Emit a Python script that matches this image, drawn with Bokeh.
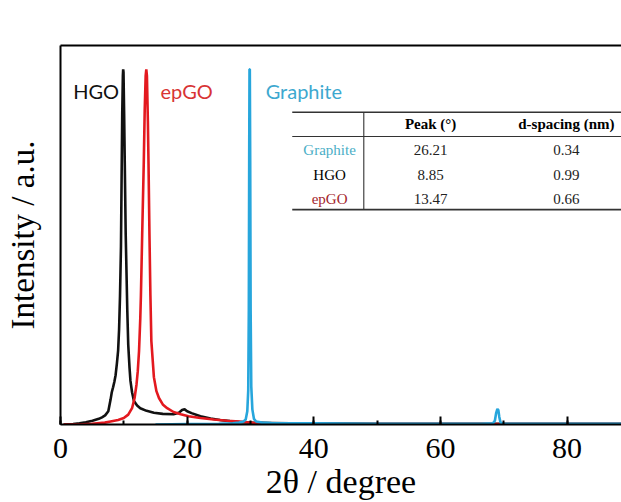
from bokeh.plotting import figure
from bokeh.models import Range1d, SingleIntervalTicker, FixedTicker, LinearAxis, ColumnDataSource
from bokeh.core.properties import value
from bokeh.embed import file_html
from bokeh.resources import INLINE

# ---- data ----
hgo_x = [0.5, 2, 3, 4, 5.05, 6.05, 6.55, 7.05, 7.55, 7.9, 8.1, 8.3, 8.5, 8.7, 8.9, 9.1, 9.25, 9.4,
         9.55, 9.65, 9.75, 9.85, 9.9, 9.95, 10.05, 10.15, 10.3, 10.55, 10.7, 10.9, 11.05, 11.3, 11.6,
         12.1, 12.6, 13.6, 14.75, 16.15, 17.85, 18.7, 19.2, 19.6, 20.0, 20.7, 22.1, 23.7, 25.2, 26.75,
         28.45, 30.3, 33.3, 36.3, 40, 50, 60, 70, 80, 88.6]
hgo_y = [0.0, 0.001, 0.003, 0.006, 0.01, 0.015, 0.019, 0.024, 0.035, 0.065, 0.085, 0.098, 0.112,
         0.13, 0.16, 0.195, 0.25, 0.34, 0.47, 0.65, 0.82, 0.92, 0.937, 0.93, 0.82, 0.69, 0.5, 0.3,
         0.21, 0.15, 0.115, 0.085, 0.062, 0.05, 0.043, 0.036, 0.031, 0.028, 0.027, 0.031, 0.038,
         0.04, 0.035, 0.03, 0.022, 0.016, 0.012, 0.009, 0.006, 0.005, 0.004, 0.003, 0.003, 0.002,
         0.002, 0.002, 0.002, 0.002]

epgo_x = [0.5, 3, 5, 7, 7.9, 9.1, 10.0, 10.7, 11.3, 11.7, 12.0, 12.2, 12.4, 12.6, 12.7, 12.9, 13.15,
          13.3, 13.45, 13.55, 13.65, 13.8, 13.9, 14.05, 14.2, 14.35, 14.75, 15.15, 15.55, 16.15,
          16.85, 17.85, 19.0, 20.2, 22.1, 24.2, 26.35, 28.25, 29.5, 30.8, 32.3, 35.3, 40, 50, 60,
          70, 80, 88.6]
epgo_y = [0.0, 0.0, 0.002, 0.005, 0.008, 0.012, 0.017, 0.026, 0.043, 0.07, 0.105, 0.14, 0.193,
          0.28, 0.34, 0.5, 0.69, 0.83, 0.92, 0.937, 0.92, 0.8, 0.69, 0.5, 0.34, 0.22, 0.125, 0.088,
          0.07, 0.053, 0.043, 0.033, 0.027, 0.022, 0.017, 0.013, 0.01, 0.008, 0.006, 0.004, 0.003,
          0.002, 0.001, 0.001, 0.001, 0.001, 0.001, 0.001]

graphite_x = [15, 20, 25, 27.2, 28.2, 28.9, 29.25, 29.5, 29.65, 29.74, 29.8, 29.85, 29.9, 29.96,
              30.03, 30.13, 30.3, 30.55, 30.9, 31.8, 33.3, 36.3, 40, 50, 60, 66.5, 68.3, 68.6,
              68.8, 69.0, 69.15, 69.3, 69.5, 69.9, 72.7, 80, 88.6]
graphite_y = [0.0, 0.001, 0.002, 0.003, 0.005, 0.008, 0.013, 0.035, 0.09, 0.3, 0.7, 0.937, 0.937,
              0.7, 0.3, 0.1, 0.04, 0.015, 0.008, 0.005, 0.004, 0.003, 0.003, 0.002, 0.002, 0.002,
              0.003, 0.01, 0.03, 0.041, 0.038, 0.02, 0.005, 0.002, 0.002, 0.002, 0.002]

series_names = ["HGO", "epGO", "Graphite"]
table_header = ["Peak (°)", "d-spacing (nm)"]
table_samples = ["Graphite", "HGO", "epGO"]
peak_deg = ["26.21", "8.85", "13.47"]
d_spacing = ["0.34", "0.99", "0.66"]

# ---- styles / positions ----
BLACK = "#111111"
RED = "#e3191f"
BLUE = "#27a6dc"
SERIF = "Liberation Serif"

p = figure(width=621, height=502, x_range=Range1d(0, 88.6), y_range=Range1d(0, 1),
           output_backend="svg", toolbar_location=None,
           min_border_left=60, min_border_right=0, min_border_top=45, min_border_bottom=78)
p.outline_line_color = None
p.grid.visible = False
p.background_fill_color = "white"

p.line(hgo_x, hgo_y, line_color=BLACK, line_width=2.6)
p.line(epgo_x, epgo_y, line_color=RED, line_width=2.6)
p.line(graphite_x, graphite_y, line_color=BLUE, line_width=2.6)

# axes
xa = p.xaxis[0]
xa.ticker = SingleIntervalTicker(interval=20, num_minor_ticks=2)
xa.major_tick_in = 8
xa.major_tick_out = 0
xa.minor_tick_in = 4
xa.minor_tick_out = 0
xa.major_tick_line_width = 2
xa.minor_tick_line_width = 2
xa.axis_line_width = 2
xa.axis_line_color = "black"
xa.major_tick_line_color = "black"
xa.minor_tick_line_color = "black"
xa.major_label_text_font = SERIF
xa.major_label_text_font_size = "30px"
xa.major_label_text_color = "black"
xa.major_label_standoff = 14
xa.axis_label = "2θ / degree"
xa.axis_label_text_font = SERIF
xa.axis_label_text_font_size = "34px"
xa.axis_label_text_font_style = "normal"
xa.axis_label_text_color = "black"
xa.axis_label_standoff = 2

ya = p.yaxis[0]
ya.ticker = FixedTicker(ticks=[])
ya.axis_line_width = 2
ya.axis_line_color = "black"
ya.axis_label = "Intensity / a.u."
ya.axis_label_text_font = SERIF
ya.axis_label_text_font_size = "33px"
ya.axis_label_text_font_style = "normal"
ya.axis_label_text_color = "black"
ya.axis_label_standoff = 20

top = LinearAxis(ticker=FixedTicker(ticks=[]), axis_line_width=2, axis_line_color="black",
                 major_label_text_font_size="0px")
p.add_layout(top, "above")

# series labels
lab_src = ColumnDataSource(dict(x=[2.0, 15.8, 32.4], y=[0.879, 0.879, 0.879], t=series_names,
                                c=[BLACK, "#d83434", "#3da8cf"]))
p.text(x="x", y="y", text="t", text_color="c", source=lab_src, text_font=value("Lato"),
       text_font_size="20px", text_baseline="alphabetic", text_align="left")

# table
tx0, tx1, txv = 36.6, 88.6, 47.9
ty_top, ty_head, ty_bot = 0.824, 0.760, 0.567
p.segment(x0=[tx0, tx0], y0=[ty_top, ty_bot], x1=[tx1, tx1], y1=[ty_top, ty_bot],
          line_color="#333333", line_width=1.6)
p.segment(x0=[tx0], y0=[ty_head], x1=[tx1], y1=[ty_head], line_color="#333333", line_width=1.1)
p.segment(x0=[txv], y0=[ty_top], x1=[txv], y1=[ty_bot], line_color="#333333", line_width=1.1)

col_x = [42.5, 58.45, 79.9]
row_y = [0.723, 0.6596, 0.5955]
head_y = 0.7934
p.text(x=col_x[1:], y=[head_y, head_y], text=table_header, text_font=value(SERIF),
       text_font_size="15px", text_font_style="bold", text_align="center",
       text_baseline="middle", text_color="black")
p.text(x=[col_x[0]] * 3, y=row_y, text=table_samples, text_font=value(SERIF),
       text_font_size="15px", text_align="center", text_baseline="middle",
       text_color=["#4aaec6", "black", "#a3242c"])
p.text(x=[col_x[1]] * 3, y=row_y, text=peak_deg, text_font=value(SERIF),
       text_font_size="15px", text_align="center", text_baseline="middle", text_color="#222222")
p.text(x=[col_x[2]] * 3, y=row_y, text=d_spacing, text_font=value(SERIF),
       text_font_size="15px", text_align="center", text_baseline="middle", text_color="#222222")

open("out.html", "w").write(file_html(p, INLINE))
